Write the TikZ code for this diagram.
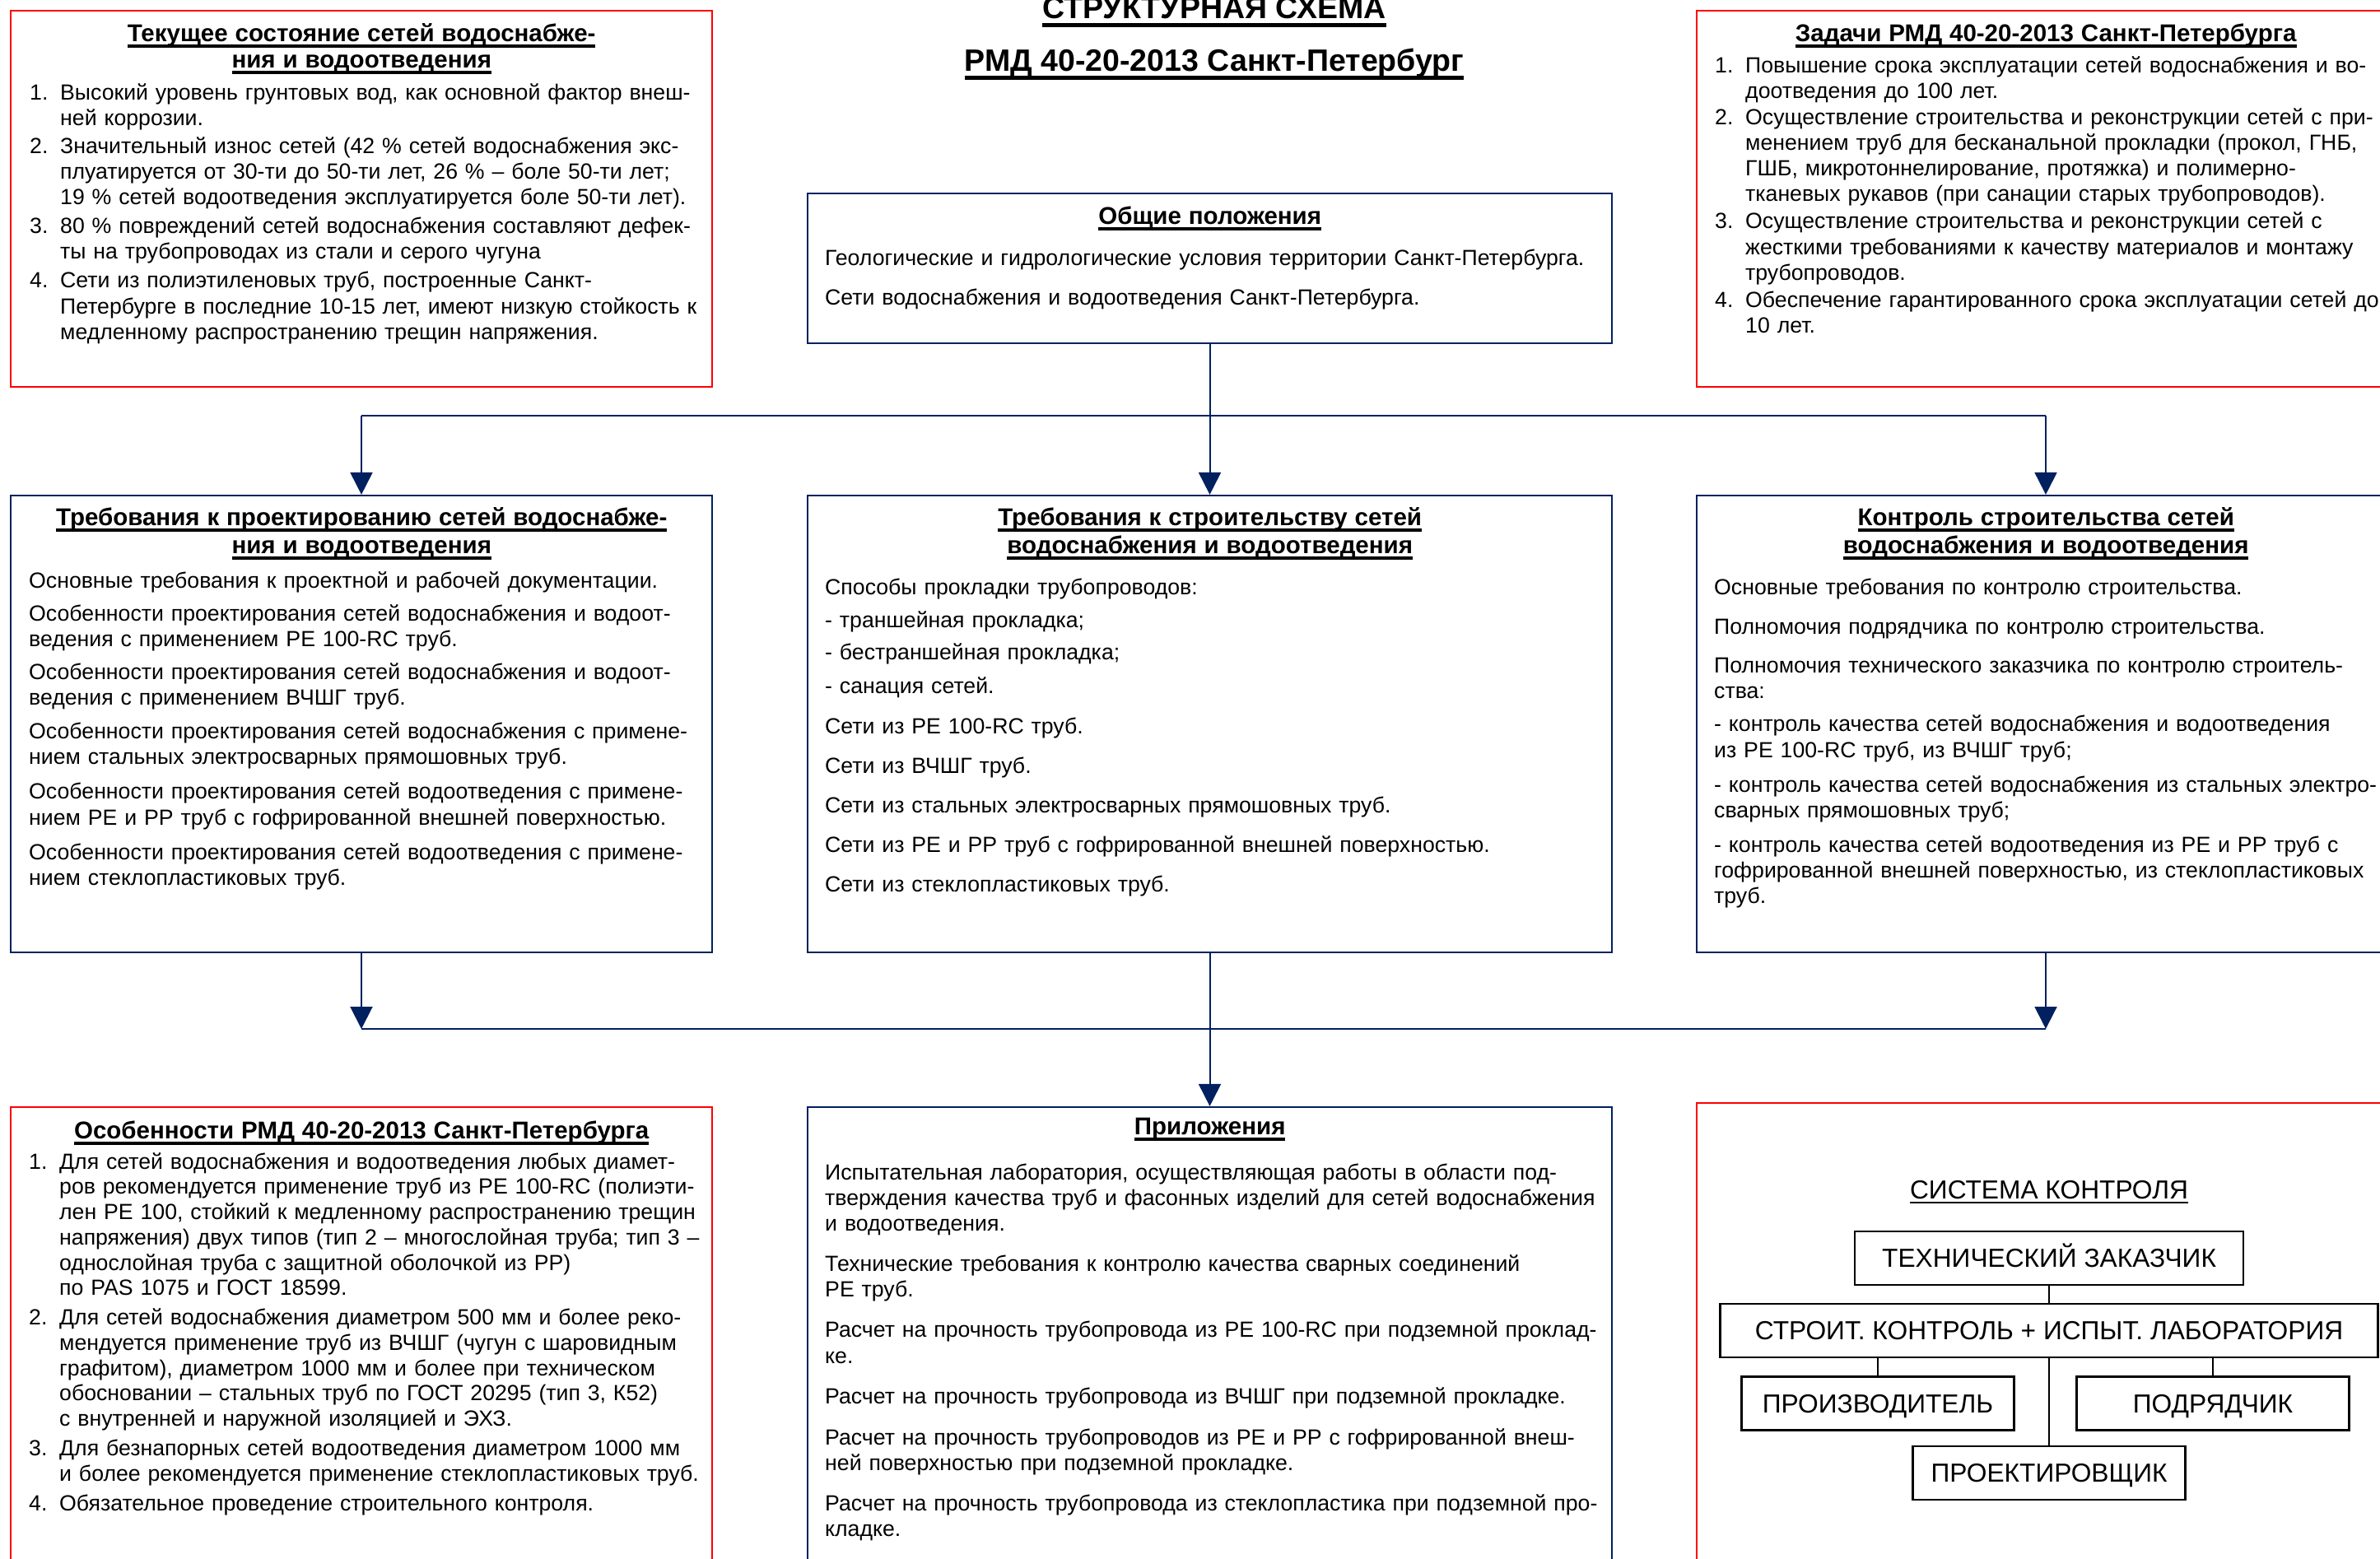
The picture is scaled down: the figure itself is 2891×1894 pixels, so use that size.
\documentclass[tikz,border=0pt]{standalone}
\usepackage{fontspec}
\setmainfont{Liberation Sans}
\usetikzlibrary{arrows.meta}
\definecolor{navy}{HTML}{002060}
\definecolor{boxred}{HTML}{FF0000}
\newcommand\txtfont{\fontsize{26.67pt}{31.2pt}\selectfont}
\newcommand\orgfont{\fontsize{31.7pt}{38pt}\selectfont}
\newcommand\topstrut{\rule{0pt}{1em}}
\newcommand\undl[1]{\setbox0\hbox{#1}\rlap{\rule[-0.28em]{\wd0}{0.14em}}\box0}
\newcommand\undlthin[1]{\setbox0\hbox{#1}\rlap{\rule[-0.2em]{\wd0}{0.08em}}\box0}
\newcommand\hd[2]{\makebox[#1][c]{\fontsize{29.5pt}{31.2pt}\selectfont\bfseries\undl{#2}}}
\newcommand\itm[2][0pt]{\par\vspace{#1}\hangindent=37pt\hangafter=1\noindent\makebox[37pt][l]{#2}}

\begin{document}
\begin{tikzpicture}[x=1pt, y=-1pt,
        rbox/.style={draw=boxred, line width=2.2pt, inner sep=0pt},
        bbox/.style={draw=navy, line width=2.2pt, inner sep=0pt},
        tx/.style={anchor=north west, inner sep=0pt, text width=1000pt, align=left, font=\txtfont},
        ttl/.style={anchor=base, inner sep=0pt, font=\fontsize{37.5pt}{44pt}\selectfont\bfseries},
        obox/.style={draw, line width=2.5pt, inner sep=0pt, minimum height=65pt, text height=22.7pt, text depth=0pt, font=\orgfont},
        cn/.style={navy, line width=2pt},
        ar/.style={cn, -{Triangle[width=27pt,length=27pt]}},
        ln/.style={line width=1.8pt}]
    \useasboundingbox (0,0) rectangle (2891,1894);
    \clip (0,0) rectangle (2891,1894);
    \node[ttl] (ttl1) at (1475,23) {\undl{СТРУКТУРНАЯ СХЕМА}};
    \node[ttl] (ttl2) at (1475,87) {\undl{РМД 40-20-2013 Санкт-Петербург}};
    \node[rbox, minimum width=852pt, minimum height=457pt] (tekusch) at (439,241.5) {};
    \node[bbox, minimum width=977pt, minimum height=182pt] (obsch)   at (1469.5,326) {};
    \node[rbox, minimum width=848pt, minimum height=457pt] (zadachi) at (2485,241.5) {};
    \node[bbox, minimum width=852pt, minimum height=555pt] (proekt)  at (439,879.5) {};
    \node[bbox, minimum width=977pt, minimum height=555pt] (stroit)  at (1469.5,879.5) {};
    \node[bbox, minimum width=848pt, minimum height=555pt] (kontrol) at (2485,879.5) {};
    \node[rbox, minimum width=852pt, minimum height=600pt] (osob)    at (439,1645) {};
    \node[bbox, minimum width=977pt, minimum height=600pt] (prilozh) at (1469.5,1645) {};
    \node[rbox, minimum width=848pt, minimum height=605pt] (sistema) at (2485,1642.5) {};
    \node[tx] (tekusch-t) at (36,23.33) {\topstrut\hd{806pt}{Текущее состояние сетей водоснабже-}\\[0.8pt]
        \hd{806pt}{ния и водоотведения}
        \itm[7.8pt]{1.}Высокий уровень грунтовых вод, как основной фактор внеш-\newline ней коррозии.
        \itm[2.8pt]{2.}Значительный износ сетей (42~\% сетей водоснабжения экс-\newline плуатируется от 30-ти до 50-ти лет, 26~\% – боле 50-ти лет;\newline 19~\% сетей водоотведения эксплуатируется боле 50-ти лет).
        \itm[3.8pt]{3.}80~\% повреждений сетей водоснабжения составляют дефек-\newline ты на трубопроводах из стали и серого чугуна
        \itm[3.8pt]{4.}Сети из полиэтиленовых труб, построенные Санкт-\newline Петербурге в последние 10-15 лет, имеют низкую стойкость к\newline медленному распространению трещин напряжения.\par};
    \node[tx] (obsch-t) at (1002,245.33) {\topstrut\hd{935pt}{Общие положения}\\[18.8pt]
        Геологические и гидрологические условия территории Санкт-Петербурга.\\[16.8pt]
        Сети водоснабжения и водоотведения Санкт-Петербурга.};
    \node[tx] (zadachi-t) at (2083,23.33) {\topstrut\hd{804pt}{Задачи РМД 40-20-2013 Санкт-Петербурга}
        \itm[6.8pt]{1.}Повышение срока эксплуатации сетей водоснабжения и во-\newline доотведения до 100 лет.
        \itm[0.8pt]{2.}Осуществление строительства и реконструкции сетей с при-\newline менением труб для бесканальной прокладки (прокол, ГНБ,\newline ГШБ, микротоннелирование, протяжка) и полимерно-\newline тканевых рукавов (при санации старых трубопроводов).
        \itm[1.8pt]{3.}Осуществление строительства и реконструкции сетей с\newline жесткими требованиями к качеству материалов и монтажу\newline трубопроводов.
        \itm[1.8pt]{4.}Обеспечение гарантированного срока эксплуатации сетей до\newline 10 лет.\par};
    \node[tx] (proekt-t) at (35,611.33) {\topstrut\hd{808pt}{Требования к проектированию сетей водоснабже-}\\[2.8pt]
        \hd{808pt}{ния и водоотведения}\\[10.8pt]
        Основные требования к проектной и рабочей документации.\\[8.8pt]
        Особенности проектирования сетей водоснабжения и водоот-\\
        ведения с применением PE 100-RC труб.\\[8.8pt]
        Особенности проектирования сетей водоснабжения и водоот-\\
        ведения с применением ВЧШГ труб.\\[9.8pt]
        Особенности проектирования сетей водоснабжения с примене-\\
        нием стальных электросварных прямошовных труб.\\[10.8pt]
        Особенности проектирования сетей водоотведения с примене-\\
        нием PE и PP труб с гофрированной внешней поверхностью.\\[10.8pt]
        Особенности проектирования сетей водоотведения с примене-\\
        нием стеклопластиковых труб.};
    \node[tx] (stroit-t) at (1002,611.33) {\topstrut\hd{935pt}{Требования к строительству сетей}\\[2.8pt]
        \hd{935pt}{водоснабжения и водоотведения}\\[18.8pt]
        Способы прокладки трубопроводов:\\[8.8pt]
        - траншейная прокладка;\\[8.3pt]
        - бестраншейная прокладка;\\[9.3pt]
        - санация сетей.\\[17.8pt]
        Сети из PE 100-RC труб.\\[16.8pt]
        Сети из ВЧШГ труб.\\[16.8pt]
        Сети из стальных электросварных прямошовных труб.\\[16.8pt]
        Сети из PE и PP труб с гофрированной внешней поверхностью.\\[16.8pt]
        Сети из стеклопластиковых труб.};
    \node[tx] (kontrol-t) at (2082,611.33) {\topstrut\hd{806pt}{Контроль строительства сетей}\\[2.8pt]
        \hd{806pt}{водоснабжения и водоотведения}\\[18.8pt]
        Основные требования по контролю строительства.\\[16.8pt]
        Полномочия подрядчика по контролю строительства.\\[16.3pt]
        Полномочия технического заказчика по контролю строитель-\\
        ства:\\[8.8pt]
        - контроль качества сетей водоснабжения и водоотведения\\
        из PE 100-RC труб, из ВЧШГ труб;\\[10.8pt]
        - контроль качества сетей водоснабжения из стальных электро-\\
        сварных прямошовных труб;\\[10.8pt]
        - контроль качества сетей водоотведения из PE и PP труб с\\
        гофрированной внешней поверхностью, из стеклопластиковых\\
        труб.};
    \node[tx, font=\fontsize{26.67pt}{30.7pt}\selectfont] (osob-t) at (35,1356.33) {\topstrut\hd{808pt}{Особенности РМД 40-20-2013 Санкт-Петербурга}
        \itm[6.3pt]{1.}Для сетей водоснабжения и водоотведения любых диамет-\newline ров рекомендуется применение труб из PE 100-RC (полиэти-\newline лен PE 100, стойкий к медленному распространению трещин\newline напряжения) двух типов (тип 2 – многослойная труба; тип 3 –\newline однослойная труба с защитной оболочкой из PP)\newline по PAS 1075 и ГОСТ 18599.
        \itm[5.3pt]{2.}Для сетей водоснабжения диаметром 500 мм и более реко-\newline мендуется применение труб из ВЧШГ (чугун с шаровидным\newline графитом), диаметром 1000 мм и более при техническом\newline обосновании – стальных труб по ГОСТ 20295 (тип 3, К52)\newline с внутренней и наружной изоляцией и ЭХЗ.
        \itm[5.3pt]{3.}Для безнапорных сетей водоотведения диаметром 1000 мм\newline и более рекомендуется применение стеклопластиковых труб.
        \itm[5.3pt]{4.}Обязательное проведение строительного контроля.\par};
    \node[tx] (prilozh-t) at (1002,1351.33) {\topstrut\hd{935pt}{Приложения}\\[23.8pt]
        Испытательная лаборатория, осуществляющая работы в области под-\\
        тверждения качества труб и фасонных изделий для сетей водоснабжения\\
        и водоотведения.\\[17.8pt]
        Технические требования к контролю качества сварных соединений\\
        PE труб.\\[17.8pt]
        Расчет на прочность трубопровода из PE 100-RC при подземной проклад-\\
        ке.\\[17.8pt]
        Расчет на прочность трубопровода из ВЧШГ при подземной прокладке.\\[18.8pt]
        Расчет на прочность трубопроводов из PE и PP с гофрированной внеш-\\
        ней поверхностью при подземной прокладке.\\[17.8pt]
        Расчет на прочность трубопровода из стеклопластика при подземной про-\\
        кладке.};
    % система контроля
    \node[font=\orgfont, anchor=base, inner sep=0pt] (sist-t) at (2489,1456) {\undlthin{СИСТЕМА КОНТРОЛЯ}};
    \node[obox, minimum width=472pt] (zakaz)    at (2489,1528.5) {ТЕХНИЧЕСКИЙ ЗАКАЗЧИК};
    \node[obox, minimum width=799pt] (stroilab) at (2489,1616.5) {СТРОИТ. КОНТРОЛЬ + ИСПЫТ. ЛАБОРАТОРИЯ};
    \node[obox, minimum width=331pt] (proizv)   at (2281,1705) {ПРОИЗВОДИТЕЛЬ};
    \node[obox, minimum width=331pt] (podr)     at (2688,1705) {ПОДРЯДЧИК};
    \node[obox, minimum width=331pt] (proektir) at (2489,1789.5) {ПРОЕКТИРОВЩИК};
    \draw[ln] (zakaz) -- (stroilab);
    \draw[ln] (stroilab) -- (proektir);
    \foreach \n in {proizv,podr} {\draw[ln] (\n.north |- stroilab.south) -- (\n);}
    % связи между разделами
    \coordinate (bus1) at (0,505);
    \coordinate (bus2) at (0,1250);
    \draw[cn] (obsch) -- (obsch.south |- bus1);
    \draw[cn] (proekt.north |- bus1) -- (kontrol.north |- bus1);
    \foreach \b in {proekt,stroit,kontrol} {\draw[ar] (\b.north |- bus1) -- (\b);}
    \draw[cn] (proekt.south |- bus2) -- (kontrol.south |- bus2);
    \foreach \b in {proekt,kontrol} {\draw[ar] (\b) -- (\b.south |- bus2);}
    \draw[ar] (stroit) -- (prilozh);
\end{tikzpicture}
\end{document}
